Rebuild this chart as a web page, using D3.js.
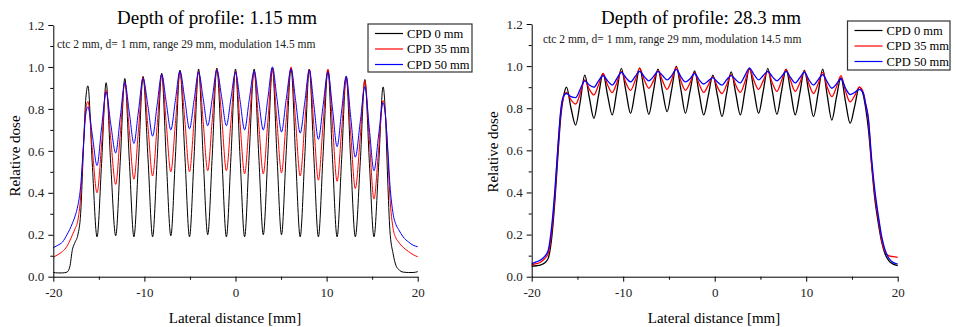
<!DOCTYPE html>
<html>
<head>
<meta charset="utf-8">
<script src="https://cdn.jsdelivr.net/npm/d3@7"></script>
<style>
  body { margin: 0; background: #fff; }
  svg { display: block; font-family: "Liberation Serif", "Times New Roman", serif; }
  svg text { font-family: "Liberation Serif", "Times New Roman", serif; }
</style>
</head>
<body>
<div id="chart"></div>
<script>
// series names + colours
var seriesNames = ["CPD 0 mm", "CPD 35 mm", "CPD 50 mm"];
var seriesColors = ["#000000", "#ff0000", "#0000ff"];

var xTicks = [-20, -10, 0, 10, 20];
var xMinorTicks = [-15, -5, 5, 15];
var yTicks = [0, 0.2, 0.4, 0.6, 0.8, 1.0, 1.2];
var yMinorTicks = [0.1, 0.3, 0.5, 0.7, 0.9, 1.1];

var note = "ctc 2 mm, d= 1 mm, range 29 mm, modulation 14.5 mm";

// ---- left panel: depth 1.15 mm ----
var xLeft = [-20, -19.5, -19, -18.5, -18.2, -17.9, -17.6, -17.3, -17.0, -16.7, -16.45,
  -16.2, -15.7, -15.2, -14.7, -14.2, -13.7, -13.15, -12.65, -12.15, -11.65, -11.15, -10.65,
  -10.15, -9.6, -9.1, -8.6, -8.1, -7.6, -7.1, -6.6, -6.1, -5.55, -5.05, -4.55, -4.05, -3.55,
  -3.05, -2.55, -2.05, -1.5, -1.0, -0.5, 0, 0.5, 1.0, 1.5, 2.05, 2.55, 3.05, 3.55, 4.05, 4.55,
  5.05, 5.55, 6.1, 6.6, 7.1, 7.6, 8.1, 8.6, 9.1, 9.6, 10.15, 10.65, 11.15, 11.65, 12.15, 12.65,
  13.15, 13.7, 14.2, 14.7, 15.2, 15.7, 16.2,
  16.45, 16.7, 16.95, 17.3, 17.6, 17.9, 18.4, 19, 19.5, 20];

var cpd0Left = [0.02, 0.018, 0.018, 0.022, 0.045, 0.13, 0.165, 0.2, 0.3, 0.6, 0.84,
  0.91, 0.52, 0.19, 0.54, 0.925, 0.54, 0.195, 0.55, 0.945, 0.55, 0.19, 0.55,
  0.955, 0.56, 0.19, 0.56, 0.97, 0.56, 0.195, 0.57, 0.985, 0.57, 0.19, 0.57, 0.99, 0.57,
  0.2, 0.58, 0.995, 0.57, 0.19, 0.57, 0.99, 0.57, 0.19, 0.58, 0.99, 0.58, 0.2, 0.58, 0.995, 0.58,
  0.2, 0.58, 0.995, 0.57, 0.19, 0.57, 0.99, 0.57, 0.19, 0.57, 0.985, 0.56, 0.19, 0.56, 0.955, 0.55,
  0.19, 0.55, 0.94, 0.54, 0.19, 0.52, 0.905,
  0.78, 0.47, 0.22, 0.11, 0.055, 0.035, 0.022, 0.02, 0.02, 0.024];

var cpd35Left = [0.093, 0.105, 0.12, 0.145, 0.17, 0.2, 0.23, 0.27, 0.38, 0.62, 0.79,
  0.835, 0.6, 0.40, 0.63, 0.89, 0.66, 0.44, 0.68, 0.925, 0.69, 0.465, 0.7,
  0.95, 0.71, 0.48, 0.72, 0.965, 0.73, 0.50, 0.73, 0.975, 0.74, 0.50, 0.74, 0.98, 0.74,
  0.505, 0.75, 0.99, 0.75, 0.505, 0.74, 0.98, 0.73, 0.49, 0.73, 0.975, 0.73, 0.49, 0.74, 0.99, 0.74,
  0.495, 0.74, 1.0, 0.74, 0.48, 0.73, 0.99, 0.72, 0.46, 0.72, 0.99, 0.72, 0.455, 0.7, 0.95, 0.68,
  0.42, 0.67, 0.935, 0.65, 0.37, 0.6, 0.84,
  0.78, 0.6, 0.38, 0.23, 0.185, 0.165, 0.14, 0.12, 0.105, 0.095];

var cpd50Left = [0.138, 0.15, 0.165, 0.2, 0.225, 0.255, 0.29, 0.34, 0.43, 0.62, 0.77,
  0.81, 0.67, 0.53, 0.71, 0.88, 0.73, 0.59, 0.76, 0.925, 0.78, 0.635, 0.79,
  0.945, 0.81, 0.67, 0.82, 0.965, 0.83, 0.70, 0.84, 0.98, 0.84, 0.705, 0.84, 0.975, 0.85,
  0.72, 0.85, 0.985, 0.85, 0.72, 0.85, 0.975, 0.84, 0.70, 0.84, 0.98, 0.84, 0.70, 0.85, 1.0, 0.85,
  0.69, 0.84, 0.99, 0.84, 0.685, 0.83, 0.985, 0.82, 0.655, 0.81, 0.975, 0.8, 0.62, 0.79, 0.955, 0.76,
  0.57, 0.74, 0.905, 0.7, 0.505, 0.67, 0.83,
  0.77, 0.62, 0.44, 0.3, 0.25, 0.225, 0.19, 0.165, 0.15, 0.143];

// ---- right panel: depth 28.3 mm ----
var xRight = [-20, -19.5, -19, -18.6, -18.2, -17.8, -17.45, -17.1, -16.8, -16.5,
  -16.2, -15.7, -15.2, -14.7, -14.2, -13.7, -13.2, -12.7, -12.2, -11.7, -11.2, -10.7,
  -10.2, -9.7, -9.2, -8.7, -8.2, -7.7, -7.2, -6.7, -6.2, -5.7, -5.2, -4.7, -4.2, -3.7,
  -3.2, -2.7, -2.2, -1.7, -1.2, -0.7, -0.2, 0.3, 0.8, 1.3, 1.8, 2.3, 2.8, 3.3, 3.8, 4.3,
  4.8, 5.3, 5.8, 6.3, 6.8, 7.3, 7.8, 8.3, 8.8, 9.3, 9.8, 10.3, 10.8, 11.3, 11.8, 12.3,
  12.8, 13.3, 13.8, 14.3, 14.8, 15.3, 15.8,
  16.2, 16.5, 16.8, 17.15, 17.5, 17.9, 18.25, 18.6, 19.0, 19.5, 20];

var cpd0Right = [0.05, 0.052, 0.056, 0.065, 0.087, 0.19, 0.37, 0.6, 0.77, 0.86,
  0.90, 0.80, 0.72, 0.83, 0.957, 0.85, 0.752, 0.86, 0.966, 0.86, 0.768, 0.88,
  0.989, 0.88, 0.776, 0.88, 0.992, 0.88, 0.771, 0.88, 0.986, 0.88, 0.784, 0.89, 1.0, 0.89,
  0.776, 0.88, 0.977, 0.87, 0.768, 0.86, 0.957, 0.86, 0.76, 0.87, 0.973, 0.87, 0.768, 0.88, 0.99, 0.88,
  0.776, 0.88, 0.989, 0.88, 0.771, 0.88, 0.986, 0.88, 0.768, 0.87, 0.981, 0.87, 0.76, 0.87, 0.986, 0.86,
  0.744, 0.85, 0.945, 0.83, 0.728, 0.81, 0.90,
  0.87, 0.8, 0.7, 0.53, 0.37, 0.25, 0.165, 0.11, 0.078, 0.06, 0.053];

var cpd35Right = [0.056, 0.062, 0.07, 0.085, 0.11, 0.22, 0.4, 0.63, 0.79, 0.855,
  0.875, 0.84, 0.82, 0.87, 0.935, 0.89, 0.863, 0.91, 0.965, 0.91, 0.874, 0.92,
  0.975, 0.92, 0.885, 0.93, 0.99, 0.935, 0.895, 0.93, 0.98, 0.93, 0.89, 0.935, 0.995, 0.93,
  0.885, 0.92, 0.97, 0.915, 0.875, 0.91, 0.95, 0.9, 0.87, 0.91, 0.96, 0.91, 0.875, 0.925, 0.985, 0.93,
  0.89, 0.93, 0.975, 0.92, 0.88, 0.93, 0.985, 0.93, 0.88, 0.92, 0.975, 0.915, 0.87, 0.915, 0.97, 0.9,
  0.855, 0.9, 0.955, 0.88, 0.83, 0.86, 0.9,
  0.88, 0.82, 0.74, 0.54, 0.39, 0.27, 0.175, 0.12, 0.1, 0.095, 0.092];

var cpd50Right = [0.062, 0.07, 0.08, 0.095, 0.125, 0.245, 0.42, 0.64, 0.8, 0.86,
  0.87, 0.855, 0.85, 0.89, 0.93, 0.91, 0.9, 0.93, 0.955, 0.93, 0.91, 0.94,
  0.97, 0.945, 0.925, 0.95, 0.975, 0.95, 0.93, 0.95, 0.975, 0.955, 0.935, 0.955, 0.985, 0.95,
  0.925, 0.94, 0.965, 0.935, 0.915, 0.93, 0.945, 0.925, 0.91, 0.935, 0.955, 0.935, 0.92, 0.955, 0.99, 0.96,
  0.935, 0.955, 0.975, 0.95, 0.93, 0.95, 0.975, 0.945, 0.92, 0.945, 0.97, 0.935, 0.91, 0.935, 0.96, 0.925,
  0.895, 0.915, 0.94, 0.895, 0.865, 0.875, 0.89,
  0.875, 0.82, 0.75, 0.56, 0.41, 0.285, 0.19, 0.13, 0.09, 0.068, 0.06];

var svg = d3.select("#chart").append("svg")
  .attr("width", 956)
  .attr("height", 327);

var serif = "'Liberation Serif', 'Times New Roman', serif";

var plot_panel = function(p) {
  var x = d3.scaleLinear().domain([-20, 20]).range([p.left, p.right]);
  var y = d3.scaleLinear().domain([0, 1.2]).range([p.bottom, p.top]);
  var g = svg.append("g");

  // curves
  var line = d3.line()
    .x(function(d) { return x(d[0]); })
    .y(function(d) { return y(d[1]); })
    .curve(d3.curveMonotoneX);
  p.series.forEach(function(s, i) {
    g.append("path")
      .datum(p.xs.map(function(v, j) { return [v, s[j]]; }))
      .attr("fill", "none")
      .attr("stroke", seriesColors[i])
      .attr("stroke-width", p.lw)
      .attr("d", line);
  });

  // axes
  var xAxis = g.append("g")
    .attr("transform", "translate(0," + p.bottom + ")")
    .call(d3.axisBottom(x).tickValues(xTicks).tickSize(5).tickSizeOuter(0)
      .tickPadding(4).tickFormat(function(d) { return String(d); }));
  g.append("g")
    .attr("transform", "translate(0," + p.bottom + ")")
    .call(d3.axisBottom(x).tickValues(xMinorTicks).tickSize(3).tickSizeOuter(0).tickFormat(""))
    .select(".domain").remove();
  var yAxis = g.append("g")
    .attr("transform", "translate(" + p.left + ",0)")
    .call(d3.axisLeft(y).tickValues(yTicks).tickSize(5).tickSizeOuter(0)
      .tickPadding(4).tickFormat(d3.format(".1f")));
  g.append("g")
    .attr("transform", "translate(" + p.left + ",0)")
    .call(d3.axisLeft(y).tickValues(yMinorTicks).tickSize(3).tickSizeOuter(0).tickFormat(""))
    .select(".domain").remove();
  xAxis.attr("font-family", serif).attr("font-size", 13);
  yAxis.attr("font-family", serif).attr("font-size", 13);
  g.selectAll(".tick text").attr("fill", "#222");
  xAxis.selectAll(".tick text").attr("dy", "0.9em");

  // titles
  g.append("text")
    .attr("x", p.titleX).attr("y", 24)
    .attr("text-anchor", "middle")
    .style("font-size", "19px")
    .text(p.title);
  g.append("text")
    .attr("x", p.noteX).attr("y", p.noteY)
    .style("font-size", "11.5px")
    .attr("fill", "#222")
    .text(note);
  g.append("text")
    .attr("x", p.xLabelX).attr("y", 323)
    .attr("text-anchor", "middle")
    .style("font-size", "15px")
    .text("Lateral distance [mm]");
  g.append("text")
    .attr("transform", "translate(" + p.yLabelX + "," + p.yLabelY + ")rotate(-90)")
    .attr("text-anchor", "middle")
    .style("font-size", "15px")
    .text("Relative dose");

  // legend
  var lg = g.append("g").attr("transform", "translate(" + p.legX + "," + p.legY + ")");
  lg.append("rect")
    .attr("width", p.legW).attr("height", p.legH)
    .attr("fill", "#fff").attr("stroke", "#333").attr("stroke-width", 1.2);
  seriesNames.forEach(function(name, i) {
    var ry = 9.5 + i * 15.5;
    lg.append("line")
      .attr("x1", 7).attr("x2", 35).attr("y1", ry).attr("y2", ry)
      .attr("stroke", seriesColors[i]).attr("stroke-width", 1.2);
    lg.append("text")
      .attr("x", 39).attr("y", ry + 4.3)
      .style("font-size", "12.5px")
      .text(name);
  });
};

plot_panel({
  xs: xLeft, series: [cpd0Left, cpd35Left, cpd50Left], lw: 1,
  left: 53.3, right: 417.7, top: 25, bottom: 276.7,
  title: "Depth of profile: 1.15 mm", titleX: 217,
  noteX: 57, noteY: 48,
  xLabelX: 235, yLabelX: 20, yLabelY: 156,
  legX: 368, legY: 24, legW: 104, legH: 48
});

plot_panel({
  xs: xRight, series: [cpd0Right, cpd35Right, cpd50Right], lw: 1.3,
  left: 531.7, right: 897.7, top: 24, bottom: 276.7,
  title: "Depth of profile: 28.3 mm", titleX: 701,
  noteX: 543, noteY: 43,
  xLabelX: 714, yLabelX: 498, yLabelY: 152,
  legX: 847.5, legY: 21, legW: 102.5, legH: 49
});
</script>
</body>
</html>
